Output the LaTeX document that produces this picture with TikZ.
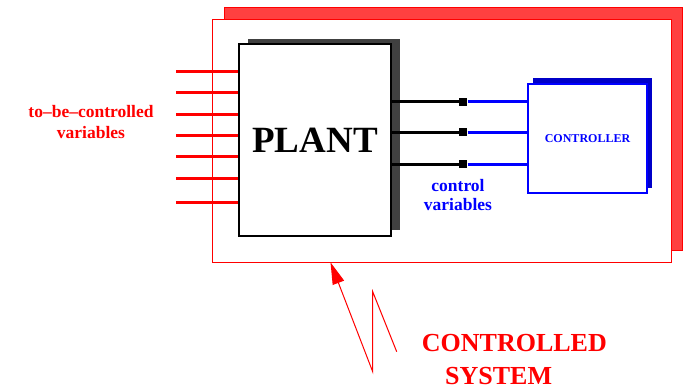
\documentclass[tikz,border=0pt]{standalone}
\usepackage{fontspec}
\setmainfont{Liberation Serif}
\usetikzlibrary{arrows.meta}
\definecolor{shadred}{RGB}{255,64,64}
\definecolor{shadgray}{RGB}{64,64,64}
\definecolor{shadblue}{RGB}{0,0,200}
\tikzset{
  blk/.style={draw, fill=white, inner sep=0pt},
  redline/.style={red, line width=3pt},
  blkline/.style={black, line width=3pt},
  blueline/.style={blue, line width=2.6pt},
  sq/.style={fill=black, minimum size=8pt, inner sep=0pt},
  lbl/.style={font=\bfseries, align=center, inner sep=0pt}
}
\begin{document}
\begin{tikzpicture}[x=1pt,y=-1pt]
\useasboundingbox (0,0) rectangle (683,386);
% outer system box with shadow
\fill[shadred] (224,7.3) rectangle (682.3,250);
\draw[red, line width=0.8pt] (224,7.3) rectangle (682.3,250);
\node[blk, draw=red, line width=0.8pt, minimum width=458.7pt, minimum height=243.3pt] (sys) at (441.65,140.65) {};
% plant
\fill[shadgray] (248,39) rectangle (400,230);
\node[blk, line width=2pt, minimum width=152pt, minimum height=191.4pt, font=\bfseries\fontsize{37}{40}\selectfont] (plant) at (315,140) {PLANT};
% controller
\fill[shadblue] (533,78) rectangle (652,188);
\node[blk, draw=blue, line width=2pt, minimum width=119pt, minimum height=108.4pt, text=blue, font=\bfseries\fontsize{12}{14}\selectfont] (ctrl) at (587.5,138.5) {CONTROLLER};
% squares
\node[sq] (s1) at (463.3,101.7) {};
\node[sq] (s2) at (463.3,132.3) {};
\node[sq] (s3) at (463.3,164.3) {};
\foreach \s in {s1,s2,s3}{
  \draw[blkline] (plant.east |- \s) -- (\s.west);
  \draw[blueline] (\s.east) -- (ctrl.west |- \s);
}
% to-be-controlled lines
\foreach \y [count=\i] in {71.7,92.7,114,135.3,156.7,178,202.3}{
  \coordinate (l\i) at (176,\y);
  \draw[redline] (l\i) -- (plant.west |- l\i);
}
% labels
\node[lbl, text=red, font=\bfseries\fontsize{17.5}{21}\selectfont] (tbc) at (91,122) {to--be--controlled\\variables};
\node[lbl, text=blue, font=\bfseries\fontsize{17.5}{19}\selectfont] (cv) at (458,195) {control\\variables};
\node[lbl, text=red, font=\bfseries\fontsize{26}{28}\selectfont, anchor=base west] (cs1) at (421.7,351.7) {CONTROLLED};
\node[lbl, text=red, font=\bfseries\fontsize{26}{28}\selectfont, anchor=base west] (cs2) at (445,384) {SYSTEM};
% zigzag arrow
\coordinate (z0) at (396.7,351.7);
\coordinate (z1) at (372.7,291.7);
\coordinate (z2) at (372.7,371.7);
\coordinate (tip) at (330.5,262.3);
\draw[red, line width=1pt, line join=miter, -{Triangle[length=22pt,width=12pt]}] (z0) -- (z1) -- (z2) -- (tip);
\end{tikzpicture}
\end{document}
